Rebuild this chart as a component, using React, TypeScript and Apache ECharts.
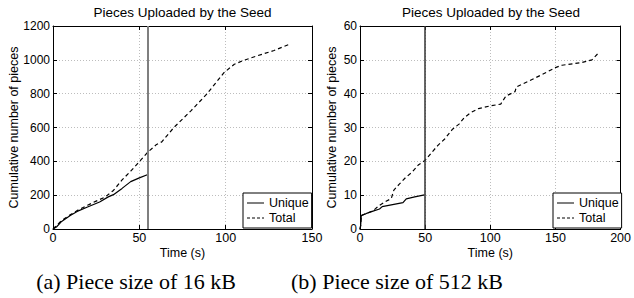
import React, { useEffect, useRef } from "react";
import * as echarts from "echarts";

const chartTitle = "Pieces Uploaded by the Seed";
const xName = "Time (s)";
const yName = "Cumulative number of pieces";
const captions = ["(a) Piece size of 16 kB", "(b) Piece size of 512 kB"];

// (a) 16 kB
const uniqueA: [number, number][] = [
  [0, 0], [2, 12], [5, 45], [10, 80], [14, 104], [20, 130], [27, 160], [32, 190],
  [35, 203], [40, 240], [45, 280], [50, 302], [55, 322],
];
const totalA: [number, number][] = [
  [0, 0], [5, 50], [10, 84], [15, 115], [20, 140], [25, 165], [30, 188], [35, 228],
  [40, 290], [45, 342], [50, 398], [55, 455], [60, 500], [63, 515], [70, 600],
  [80, 700], [89, 797], [99, 924], [105, 974], [110, 995], [118, 1023], [128, 1055],
  [137, 1092],
];
const vlineA = 55;

// (b) 512 kB
const uniqueB: [number, number][] = [
  [0, 0], [0.5, 1], [1, 4], [5, 4.6], [10, 5.3], [15, 5.9], [17, 6.6], [25, 7.2],
  [33, 7.8], [35.5, 8.9], [42, 9.5], [49.5, 10.1],
];
const totalB: [number, number][] = [
  [0, 0], [0.5, 1], [1, 4], [5, 4.6], [10, 5.4], [15, 7.0], [20, 8.2], [24, 9.0],
  [26, 11.5], [30, 13.2], [35, 15.2], [40, 16.8], [45, 19.0], [50, 20.3], [55, 22.6],
  [60, 24.8], [65, 26.6], [71, 29.5], [76, 31.0], [80, 32.9], [85, 34.4], [91, 35.6],
  [100, 36.4], [108, 36.9], [112, 39.3], [119, 40.6], [120, 42.0], [130, 43.8],
  [140, 45.7], [150, 47.7], [155, 48.4], [170, 49.2], [178, 50.0], [183, 52.0],
];
const vlineB = 50;

const axisA = { xMax: 150, xInt: 50, yMax: 1200, yInt: 200 };
const axisB = { xMax: 200, xInt: 50, yMax: 60, yInt: 10 };

const FONT = "Liberation Sans";

export default function App() {
  const ref = useRef<HTMLDivElement>(null);
  useEffect(() => {
    document.body.style.margin = "0";
    const chart = echarts.init(ref.current!, undefined, { renderer: "svg" });
    const grids = [
      { left: 53, top: 26, width: 259, height: 203 },
      { left: 360, top: 26, width: 262, height: 203 },
    ];
    const axes = [axisA, axisB];
    const splitLine = { show: true, lineStyle: { color: "#bdbdbd", type: [1, 2] as any, width: 1 } };
    const axisLine = { show: true, onZero: false, lineStyle: { color: "#000", width: 1 } };
    const tick = { show: true, inside: true, length: 4, lineStyle: { color: "#000" } };
    const fmt = (v: number) => String(v);
    const nameStyle = { color: "#000", fontFamily: FONT, fontSize: 12.5 };
    const xAxis: any[] = [];
    const yAxis: any[] = [];
    axes.forEach((a, i) => {
      xAxis.push({
        type: "value", gridIndex: i, min: 0, max: a.xMax, interval: a.xInt,
        name: xName, nameLocation: "middle", nameGap: 17, nameMoveOverlap: false,
        nameTextStyle: nameStyle,
        axisLine, axisTick: tick, splitLine,
        axisLabel: { color: "#000", fontFamily: FONT, fontSize: 12.5, margin: 2, formatter: fmt },
      });
      xAxis.push({
        type: "value", gridIndex: i, min: 0, max: a.xMax, interval: a.xInt, position: "top",
        axisLine, axisTick: tick, splitLine: { show: false }, axisLabel: { show: false },
      });
      yAxis.push({
        type: "value", gridIndex: i, min: 0, max: a.yMax, interval: a.yInt,
        name: yName, nameLocation: "middle", nameGap: i === 0 ? 33 : 22, nameMoveOverlap: false,
        nameTextStyle: nameStyle,
        axisLine, axisTick: tick, splitLine,
        axisLabel: { color: "#000", fontFamily: FONT, fontSize: 12, margin: 3, formatter: fmt },
      });
      yAxis.push({
        type: "value", gridIndex: i, min: 0, max: a.yMax, interval: a.yInt, position: "right",
        axisLine, axisTick: tick, splitLine: { show: false }, axisLabel: { show: false },
      });
    });
    const mk = (v: number, color: string, width: number) => ({
      symbol: "none", silent: true, label: { show: false },
      lineStyle: { color, width, type: "solid" },
      data: [{ xAxis: v }],
    });
    const dataSets = [
      { u: uniqueA, t: totalA, v: vlineA, vc: "#7f7f7f", vw: 2 },
      { u: uniqueB, t: totalB, v: vlineB, vc: "#333", vw: 1.5 },
    ];
    const series: any[] = [];
    dataSets.forEach((d, i) => {
      series.push({
        name: "Unique", type: "line", xAxisIndex: i * 2, yAxisIndex: i * 2, data: d.u,
        symbol: "none", lineStyle: { color: "#000", width: 1.2 }, itemStyle: { color: "#000" },
        markLine: mk(d.v, d.vc, d.vw), z: 3,
      });
      series.push({
        name: "Total", type: "line", xAxisIndex: i * 2, yAxisIndex: i * 2, data: d.t,
        symbol: "none", lineStyle: { color: "#000", width: 1.2, type: [4, 3] }, itemStyle: { color: "#000" },
        z: 2,
      });
    });
    const legendBase = (left: number) => ({
      orient: "vertical", left, top: 193, backgroundColor: "#fff",
      borderColor: "#000", borderWidth: 1, borderRadius: 0, padding: [3, 3, 3, 3],
      itemGap: 1, itemWidth: 17, itemHeight: 2,
      textStyle: { color: "#000", fontFamily: FONT, fontSize: 12.5, lineHeight: 14 },
      selectedMode: false,
      data: [
        { name: "Unique", itemStyle: { opacity: 0 }, lineStyle: { color: "#7f7f7f", width: 2, type: "solid" } },
        { name: "Total", itemStyle: { opacity: 0 }, lineStyle: { color: "#000", width: 1, type: [3, 2] } },
      ],
    });
    const titleStyle = { color: "#000", fontFamily: FONT, fontSize: 13.5, fontWeight: "normal" };
    chart.setOption({
      animation: false,
      grid: grids,
      title: [
        { text: chartTitle, left: 182.5, top: 5, padding: 0, textAlign: "center", textStyle: titleStyle },
        { text: chartTitle, left: 491, top: 5, padding: 0, textAlign: "center", textStyle: titleStyle },
      ],
      legend: [legendBase(243), legendBase(553)],
      xAxis, yAxis, series,
      graphic: [
        { type: "text", x: 136, y: 281, style: { text: captions[0], fill: "#000",
          font: '22px "Liberation Serif"', textAlign: "center", textVerticalAlign: "middle" } },
        { type: "text", x: 397, y: 281, style: { text: captions[1], fill: "#000",
          font: '22px "Liberation Serif"', textAlign: "center", textVerticalAlign: "middle" } },
      ],
    });
    return () => chart.dispose();
  }, []);
  return <div ref={ref} style={{ width: 634, height: 298 }} />;
}
